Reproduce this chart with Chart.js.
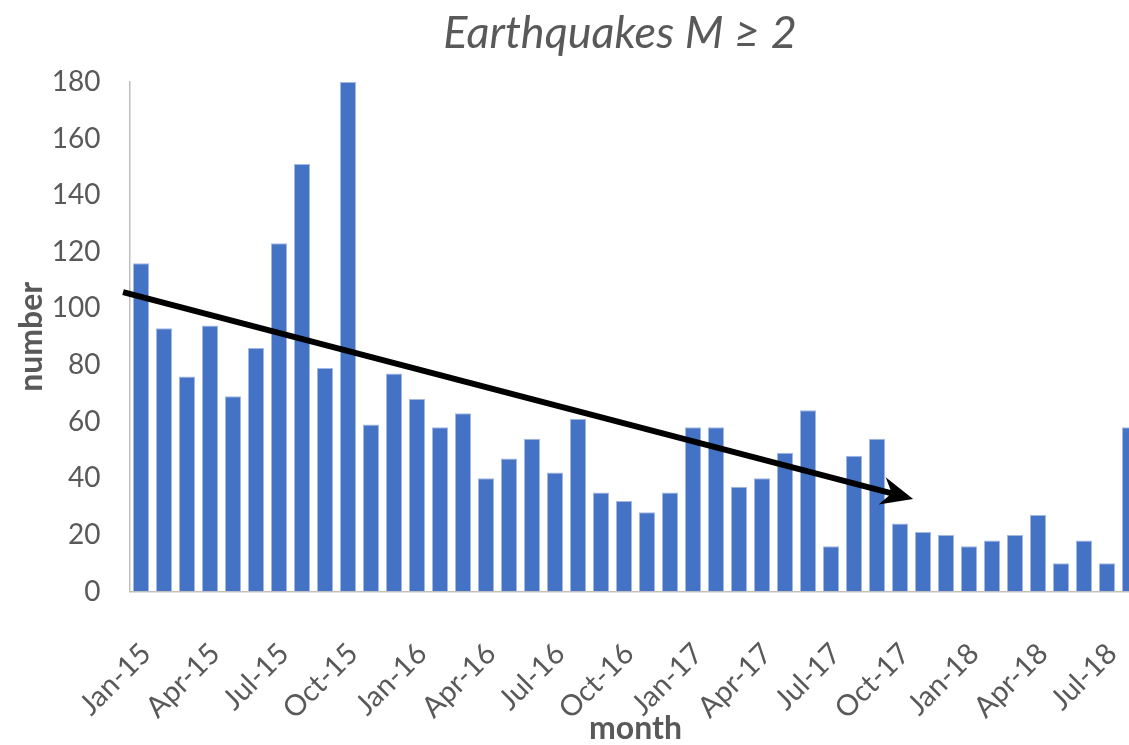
<!DOCTYPE html>
<html>
<head>
<meta charset="utf-8">
<script src="https://cdn.jsdelivr.net/npm/chart.js@4"></script>
<style>
  html, body { margin: 0; padding: 0; background: #fff; overflow: hidden; }
  #wrap { width: 1240px; height: 745px; }
</style>
</head>
<body>
<div id="wrap"><canvas id="myChart" width="1240" height="745"></canvas></div>
<script>
var months = [
    "Jan-15", "Feb-15", "Mar-15", "Apr-15", "May-15", "Jun-15", "Jul-15", "Aug-15", "Sep-15", "Oct-15", "Nov-15", "Dec-15",
    "Jan-16", "Feb-16", "Mar-16", "Apr-16", "May-16", "Jun-16", "Jul-16", "Aug-16", "Sep-16", "Oct-16", "Nov-16", "Dec-16",
    "Jan-17", "Feb-17", "Mar-17", "Apr-17", "May-17", "Jun-17", "Jul-17", "Aug-17", "Sep-17", "Oct-17", "Nov-17", "Dec-17",
    "Jan-18", "Feb-18", "Mar-18", "Apr-18", "May-18", "Jun-18", "Jul-18", "Aug-18"
];
var quakeCounts = [
    116, 93, 76, 94, 69, 86, 123, 151, 79, 180, 59, 77,
    68, 58, 63, 40, 47, 54, 42, 61, 35, 32, 28, 35,
    58, 58, 37, 40, 49, 64, 16, 48, 54, 24, 21, 20,
    16, 18, 20, 27, 10, 18, 10, 58
];
// trend arrow, as [category index, count]
var trendStart = [-0.78, 105.8];
var trendEnd = [33.57, 32.7];

var textGrey = '#595959';
var axisGrey = '#bfbfbf';
var fontName = 'Lato, "Noto Sans", sans-serif';

var trendArrow = {
    id: 'trendArrow',
    afterLayout: function (chart) {
        // keep the title centred on the whole canvas
        if (chart.titleBlock) {
            chart.titleBlock.left = 0;
            chart.titleBlock.right = chart.width;
            chart.titleBlock.width = chart.width;
        }
    },
    afterDatasetsDraw: function (chart) {
        var xs = chart.scales.x, ys = chart.scales.y, c = chart.ctx;
        var x0 = xs.getPixelForValue(trendStart[0]), y0 = ys.getPixelForValue(trendStart[1]);
        var x1 = xs.getPixelForValue(trendEnd[0]), y1 = ys.getPixelForValue(trendEnd[1]);
        var a = Math.atan2(y1 - y0, x1 - x0);
        var len = 32, half = 14, notch = 10;
        c.save();
        c.translate(x1, y1);
        c.rotate(a);
        var back = -Math.hypot(x1 - x0, y1 - y0);
        c.beginPath();
        c.moveTo(back, 0);
        c.lineTo(-len + notch, 0);
        c.lineWidth = 6;
        c.strokeStyle = '#000';
        c.stroke();
        c.beginPath();
        c.moveTo(0, 0);
        c.lineTo(-len, -half);
        c.lineTo(-len + notch, 0);
        c.lineTo(-len, half);
        c.closePath();
        c.fillStyle = '#000';
        c.fill();
        c.restore();
    }
};

var ctx = document.getElementById("myChart").getContext('2d');
var myChart = new Chart(ctx, {
    type: 'bar',
    data: {
        labels: months,
        datasets: [{
            data: quakeCounts,
            backgroundColor: '#4472c4',
            borderColor: '#a3b9e4',
            borderWidth: 1,
            borderSkipped: 'bottom',
            barPercentage: 0.7,
            categoryPercentage: 1
        }]
    },
    options: {
        responsive: false,
        animation: false,
        layout: {
            padding: { left: 0, right: 98.5, top: 0, bottom: 0 }
        },
        plugins: {
            legend: { display: false },
            tooltip: { enabled: false },
            title: {
                display: true,
                text: 'Earthquakes M ≥ 2',
                color: textGrey,
                font: { family: fontName, size: 45, style: 'italic', weight: 'normal', lineHeight: 1.2 },
                padding: { top: 6, bottom: 22 }
            }
        },
        scales: {
            x: {
                grid: { drawOnChartArea: false, drawTicks: false },
                border: { display: true, color: axisGrey, width: 1.5 },
                ticks: {
                    autoSkip: false,
                    minRotation: 45,
                    maxRotation: 45,
                    padding: 45,
                    labelOffset: 5,
                    color: textGrey,
                    font: { family: fontName, size: 29 },
                    callback: function (value, index) {
                        return index % 3 === 0 ? months[index] : '';
                    }
                },
                title: {
                    display: true,
                    text: 'month',
                    color: textGrey,
                    font: { family: fontName, size: 32, weight: 'bold', lineHeight: 1 },
                    padding: { top: 0, bottom: 0 }
                },
                afterFit: function (scale) {
                    scale.height = 153.5;
                }
            },
            y: {
                min: 0,
                max: 180,
                grid: { drawOnChartArea: false, drawTicks: false },
                border: { display: true, color: axisGrey, width: 1.5 },
                ticks: {
                    stepSize: 20,
                    padding: 29,
                    color: textGrey,
                    font: { family: fontName, size: 28 }
                },
                title: {
                    display: true,
                    text: 'number',
                    color: textGrey,
                    font: { family: fontName, size: 32, weight: 'bold', lineHeight: 1 },
                    padding: { top: 16, bottom: 0 }
                },
                afterFit: function (scale) {
                    scale.width = 129.5;
                }
            }
        }
    },
    plugins: [trendArrow]
});
</script>
</body>
</html>
